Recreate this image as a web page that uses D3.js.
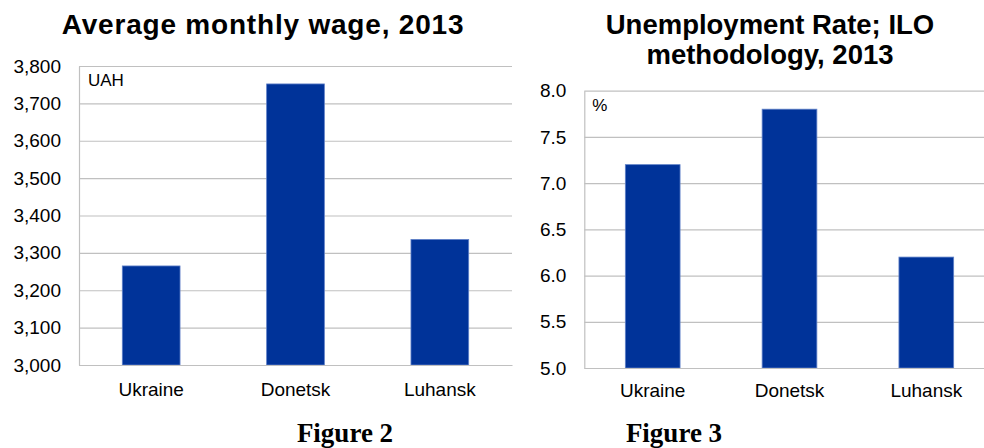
<!DOCTYPE html>
<html>
<head>
<meta charset="utf-8">
<script src="https://cdn.jsdelivr.net/npm/d3@7"></script>
<style>
    body { margin: 0; background: #fff; }
    svg { display: block; }
</style>
</head>
<body>
<div id="mainContainer"></div>
<script>
// data
const regions = ["Ukraine", "Donetsk", "Luhansk"];
const wageValues = [3265, 3752, 3336];
const wageTicks = [3000, 3100, 3200, 3300, 3400, 3500, 3600, 3700, 3800];
const unemploymentValues = [7.2, 7.8, 6.2];
const unemploymentTicks = [5.0, 5.5, 6.0, 6.5, 7.0, 7.5, 8.0];

const svgWidth = 984;
const svgHeight = 448;
const barColor = "#003399";
const gridColor = "#c0c0c0";
const sans = "'Liberation Sans', Arial, sans-serif";

const svg = d3.select("#mainContainer")
    .append("svg")
    .attr("width", svgWidth)
    .attr("height", svgHeight);

svg.append("rect")
    .attr("width", svgWidth)
    .attr("height", svgHeight)
    .attr("fill", "#fff");

function renderBarChart(cfg) {
    const g = svg.append("g");

    const xScale = d3.scaleBand()
        .domain(regions)
        .range([cfg.left, cfg.right])
        .paddingInner(0.6)
        .paddingOuter(0.3);

    const yScale = d3.scaleLinear()
        .domain(cfg.domain)
        .range([cfg.bottom, cfg.top]);

    // gridlines + tick labels
    const yAxisGroup = g.append("g")
        .attr("transform", `translate(${cfg.left}, 0)`)
        .call(d3.axisLeft(yScale)
            .tickValues(cfg.ticks)
            .tickFormat(cfg.format)
            .tickSizeInner(-(cfg.right - cfg.left))
            .tickSizeOuter(0)
            .tickPadding(18));

    yAxisGroup.selectAll("line").attr("stroke", gridColor).attr("stroke-width", 1.2);
    yAxisGroup.select(".domain").attr("stroke", gridColor).attr("stroke-width", 1.2);
    yAxisGroup.selectAll("text")
        .attr("fill", "#000")
        .attr("font-family", sans)
        .attr("font-size", "19px");

    g.selectAll(".bar")
        .data(cfg.values)
        .enter()
        .append("rect")
        .attr("class", "bar")
        .attr("x", (d, i) => xScale(regions[i]))
        .attr("y", d => yScale(d))
        .attr("width", xScale.bandwidth())
        .attr("height", d => cfg.bottom - yScale(d))
        .attr("fill", barColor)
        .attr("stroke", "#5f80c8")
        .attr("stroke-width", 0.8);

    // category axis
    const xAxisGroup = g.append("g")
        .attr("transform", `translate(0, ${cfg.bottom})`)
        .call(d3.axisBottom(xScale).tickSize(0).tickPadding(0));

    xAxisGroup.select(".domain").attr("stroke", gridColor).attr("stroke-width", 1.2);
    xAxisGroup.selectAll("text")
        .attr("fill", "#000")
        .attr("font-family", sans)
        .attr("font-size", "19px")
        .attr("dy", cfg.labelDy);

    g.append("text")
        .attr("x", cfg.left + cfg.unitDx)
        .attr("y", cfg.top + cfg.unitDy)
        .attr("font-family", sans)
        .attr("font-size", "17px")
        .attr("fill", "#000")
        .text(cfg.unit);

    const title = g.append("text")
        .attr("text-anchor", "middle")
        .attr("font-family", sans)
        .attr("font-weight", "bold")
        .attr("font-size", cfg.titleSize)
        .attr("letter-spacing", cfg.titleSpacing)
        .attr("fill", "#000");

    cfg.title.forEach((line, i) => {
        title.append("tspan")
            .attr("x", cfg.titleX)
            .attr("y", 34 + i * 30)
            .text(line);
    });

    svg.append("text")
        .attr("x", cfg.figureX)
        .attr("y", 442)
        .attr("text-anchor", "middle")
        .attr("font-family", "'Liberation Serif', 'Times New Roman', serif")
        .attr("font-weight", "bold")
        .attr("font-size", "27px")
        .attr("fill", "#000")
        .text(cfg.figure);
}

renderBarChart({
    left: 79, right: 512, top: 66, bottom: 365,
    domain: [3000, 3800],
    ticks: wageTicks,
    format: d3.format(","),
    values: wageValues,
    labelDy: "31px",
    unit: "UAH", unitDx: 9, unitDy: 20,
    title: ["Average monthly wage, 2013"],
    titleX: 263, titleSize: "28px", titleSpacing: "0.8px",
    figure: "Figure 2", figureX: 345
});

renderBarChart({
    left: 584.3, right: 994.7, top: 90.7, bottom: 368,
    domain: [5, 8],
    ticks: unemploymentTicks,
    format: d3.format(".1f"),
    values: unemploymentValues,
    labelDy: "29px",
    unit: "%", unitDx: 8, unitDy: 20,
    title: ["Unemployment Rate; ILO", "methodology, 2013"],
    titleX: 770, titleSize: "27.5px", titleSpacing: "0px",
    figure: "Figure 3", figureX: 674
});
</script>
</body>
</html>
